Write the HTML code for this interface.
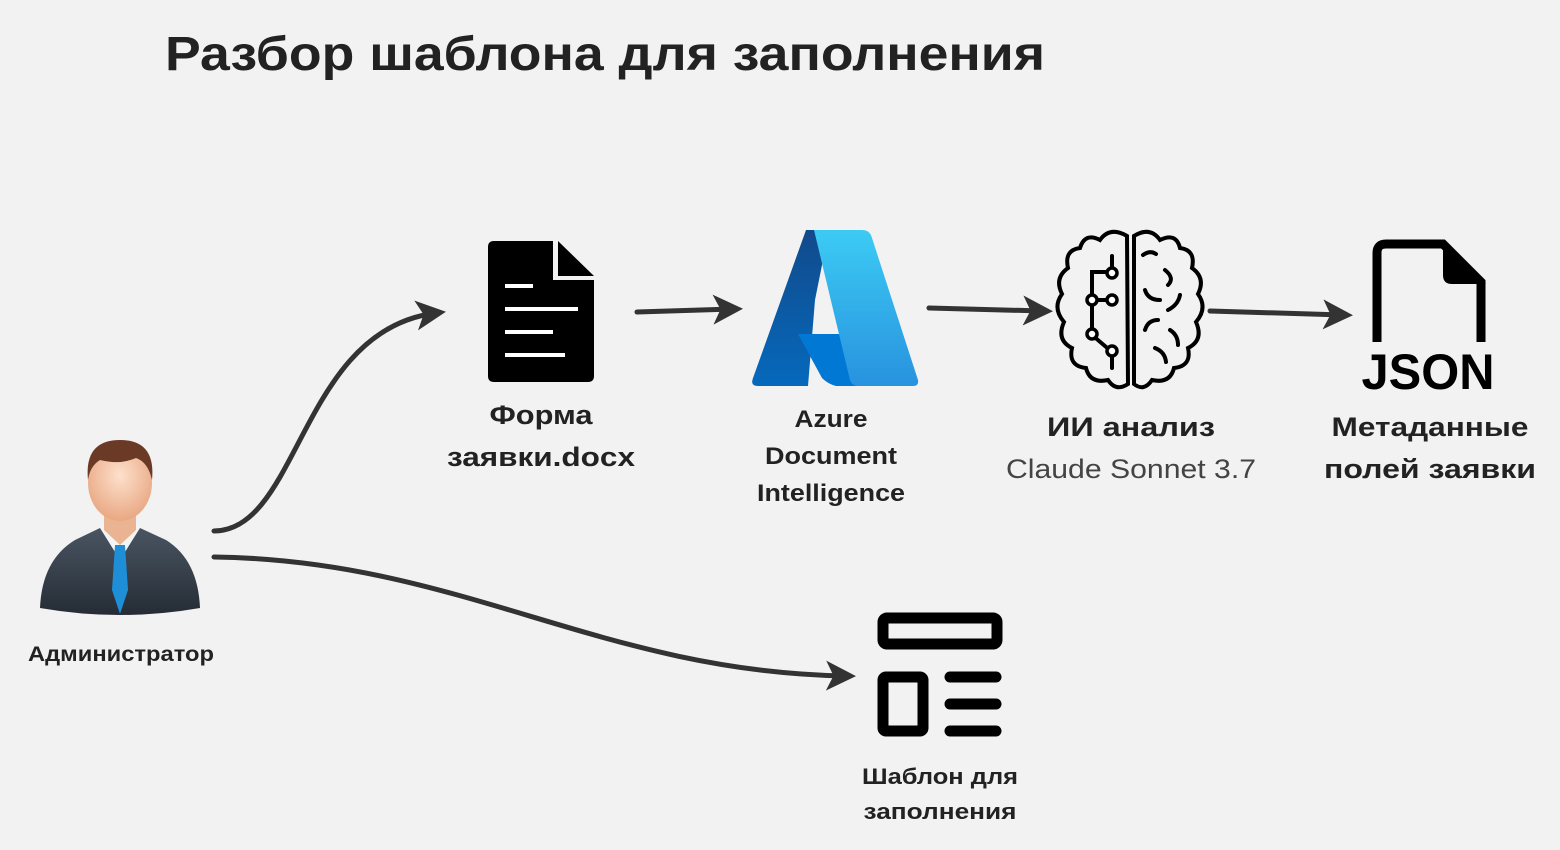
<!DOCTYPE html>
<html><head><meta charset="utf-8"><style>
html,body{margin:0;padding:0;background:#f2f2f2;}
svg{display:block;}
text{font-family:"Liberation Sans","DejaVu Sans",sans-serif;fill:#222;}
</style></head><body>
<svg width="1560" height="850" viewBox="0 0 1560 850" xmlns="http://www.w3.org/2000/svg">
<rect width="1560" height="850" fill="#f2f2f2"/>
<defs>
<marker id="ah" markerWidth="6" markerHeight="6" refX="4" refY="3" orient="auto" markerUnits="strokeWidth">
<path d="M0,0 L6,3 L0,6 L1.5,3 Z" fill="#333"/>
</marker>
<linearGradient id="az1" x1="0" y1="0" x2="0" y2="1"><stop offset="0" stop-color="#114a8b"/><stop offset="1" stop-color="#0669bc"/></linearGradient>
<linearGradient id="az2" x1="0" y1="0" x2="0" y2="1"><stop offset="0" stop-color="#3ccbf4"/><stop offset="1" stop-color="#2892df"/></linearGradient>
<radialGradient id="face" cx="0.5" cy="0.4" r="0.6"><stop offset="0" stop-color="#fde0cc"/><stop offset="1" stop-color="#e9a883"/></radialGradient>
<linearGradient id="suit" x1="0" y1="0" x2="0" y2="1"><stop offset="0" stop-color="#4a5562"/><stop offset="1" stop-color="#252c35"/></linearGradient>
</defs>

<text x="165" y="70" font-size="48" font-weight="bold" textLength="880" lengthAdjust="spacingAndGlyphs">Разбор шаблона для заполнения</text>

<g fill="none" stroke="#333" stroke-width="5" stroke-linecap="round">
<path d="M214,531 C300,530 300,330 436,313" marker-end="url(#ah)"/>
<path d="M214,557 C460,560 600,672 846,676" marker-end="url(#ah)"/>
<path d="M637,312 L733,309" marker-end="url(#ah)"/>
<path d="M929,308 L1043,311" marker-end="url(#ah)"/>
<path d="M1210,311 L1343,315" marker-end="url(#ah)"/>
</g>

<path d="M494,241 L553,241 L553,280 L594,280 L594,376 Q594,382 588,382 L494,382 Q488,382 488,376 L488,247 Q488,241 494,241 Z" fill="#000"/>
<path d="M558,241 L594,276 L558,276 Z" fill="#000"/>
<g stroke="#fff" stroke-width="4"><line x1="505" y1="286" x2="533" y2="286"/><line x1="505" y1="309" x2="578" y2="309"/><line x1="505" y1="332" x2="553" y2="332"/><line x1="505" y1="355" x2="565" y2="355"/></g>

<path d="M806,230 L830,230 L826,245 L815,300 L808,386 L758,386 Q750,386 753,378 Z" fill="url(#az1)"/>
<path d="M798,334 L848,334 L860,386 L836,386 Q828,384 822,378 Z" fill="#0078d4"/>
<path d="M814,230 L862,230 Q870,230 872,238 L918,380 Q919,386 913,386 L858,386 Q852,386 850,380 Z" fill="url(#az2)"/>

<g fill="none" stroke="#000" stroke-width="4" stroke-linecap="round">
<path d="M1127,236 Q1110,226 1100,240 Q1085,232 1080,248 Q1064,250 1068,268 Q1054,278 1062,294 Q1052,308 1064,322 Q1056,340 1072,348 Q1068,366 1086,368 Q1090,384 1108,380 Q1116,392 1128,384 Z"/>
<path d="M1134,236 Q1150,226 1160,240 Q1176,232 1180,248 Q1196,250 1192,268 Q1206,278 1198,294 Q1208,308 1196,322 Q1204,340 1188,348 Q1192,366 1174,368 Q1170,384 1152,380 Q1144,392 1134,384 Z"/>
<path d="M1112,256 L1112,272 M1112,272 L1092,272 L1092,300 L1112,300 M1092,300 L1092,335 L1112,352 L1112,368"/>
<path d="M1143,255 Q1150,250 1156,254 M1165,270 Q1175,278 1168,285 M1145,290 Q1148,300 1160,300 M1180,295 Q1178,305 1168,310 M1145,330 Q1148,320 1158,320 M1170,330 Q1178,335 1178,345 M1155,348 Q1165,352 1166,362"/>
</g>
<g fill="#fff" stroke="#000" stroke-width="3.5"><circle cx="1112" cy="273" r="5"/><circle cx="1092" cy="300" r="5"/><circle cx="1112" cy="300" r="5"/><circle cx="1092" cy="334" r="5"/><circle cx="1112" cy="351" r="5"/></g>

<path d="M1377,342 L1377,253 Q1377,244 1386,244 L1443,244 L1481,282 L1481,342" fill="none" stroke="#000" stroke-width="9"/>
<path d="M1443,241 L1486,284 L1452,284 Q1443,284 1443,275 Z" fill="#000"/>
<text x="1428" y="389" font-size="50" font-weight="bold" text-anchor="middle" textLength="133" lengthAdjust="spacingAndGlyphs" style="fill:#000">JSON</text>

<g fill="none" stroke="#000" stroke-width="11" stroke-linejoin="round">
<rect x="883" y="618" width="114" height="26" rx="4"/>
<rect x="883" y="677" width="40" height="54" rx="3"/>
</g>
<g stroke="#000" stroke-width="11" stroke-linecap="round"><line x1="950" y1="677" x2="996" y2="677"/><line x1="950" y1="704" x2="996" y2="704"/><line x1="950" y1="731" x2="996" y2="731"/></g>

<path d="M40,608 Q42,560 75,540 L100,528 L140,528 L166,540 Q198,560 200,608 Q120,622 40,608 Z" fill="url(#suit)"/>
<path d="M100,528 L120,560 L140,528 L134,522 L106,522 Z" fill="#f4f4f4"/>
<path d="M115,545 L125,545 L128,590 L120,614 L112,590 Z" fill="#1e8fd6"/>
<path d="M104,510 L136,510 L136,530 L120,545 L104,530 Z" fill="#eab492"/>
<ellipse cx="120" cy="483" rx="32" ry="38" fill="url(#face)"/>
<path d="M88,480 Q84,440 120,440 Q156,440 152,480 Q148,462 136,458 Q120,465 100,460 Q90,466 88,480 Z" fill="#6b3a26"/>

<g font-weight="bold" text-anchor="middle" lengthAdjust="spacingAndGlyphs">
<text x="541" y="424" font-size="27" textLength="103" lengthAdjust="spacingAndGlyphs">Форма</text>
<text x="541" y="466" font-size="27" textLength="188" lengthAdjust="spacingAndGlyphs">заявки.docx</text>
<text x="831" y="427" font-size="24" textLength="73" lengthAdjust="spacingAndGlyphs">Azure</text>
<text x="831" y="464" font-size="24" textLength="132" lengthAdjust="spacingAndGlyphs">Document</text>
<text x="831" y="501" font-size="24" textLength="148" lengthAdjust="spacingAndGlyphs">Intelligence</text>
<text x="1131" y="436" font-size="27" textLength="168" lengthAdjust="spacingAndGlyphs">ИИ анализ</text>
<text x="1430" y="436" font-size="27" textLength="197" lengthAdjust="spacingAndGlyphs">Метаданные</text>
<text x="1430" y="478" font-size="27" textLength="212" lengthAdjust="spacingAndGlyphs">полей заявки</text>
<text x="121" y="661" font-size="21" textLength="186" lengthAdjust="spacingAndGlyphs">Администратор</text>
<text x="940" y="784" font-size="22" textLength="156" lengthAdjust="spacingAndGlyphs">Шаблон для</text>
<text x="940" y="819" font-size="22" textLength="153" lengthAdjust="spacingAndGlyphs">заполнения</text>
</g>
<text x="1131" y="478" font-size="27" text-anchor="middle" textLength="250" lengthAdjust="spacingAndGlyphs" style="fill:#444">Claude Sonnet 3.7</text>
</svg>
</body></html>
